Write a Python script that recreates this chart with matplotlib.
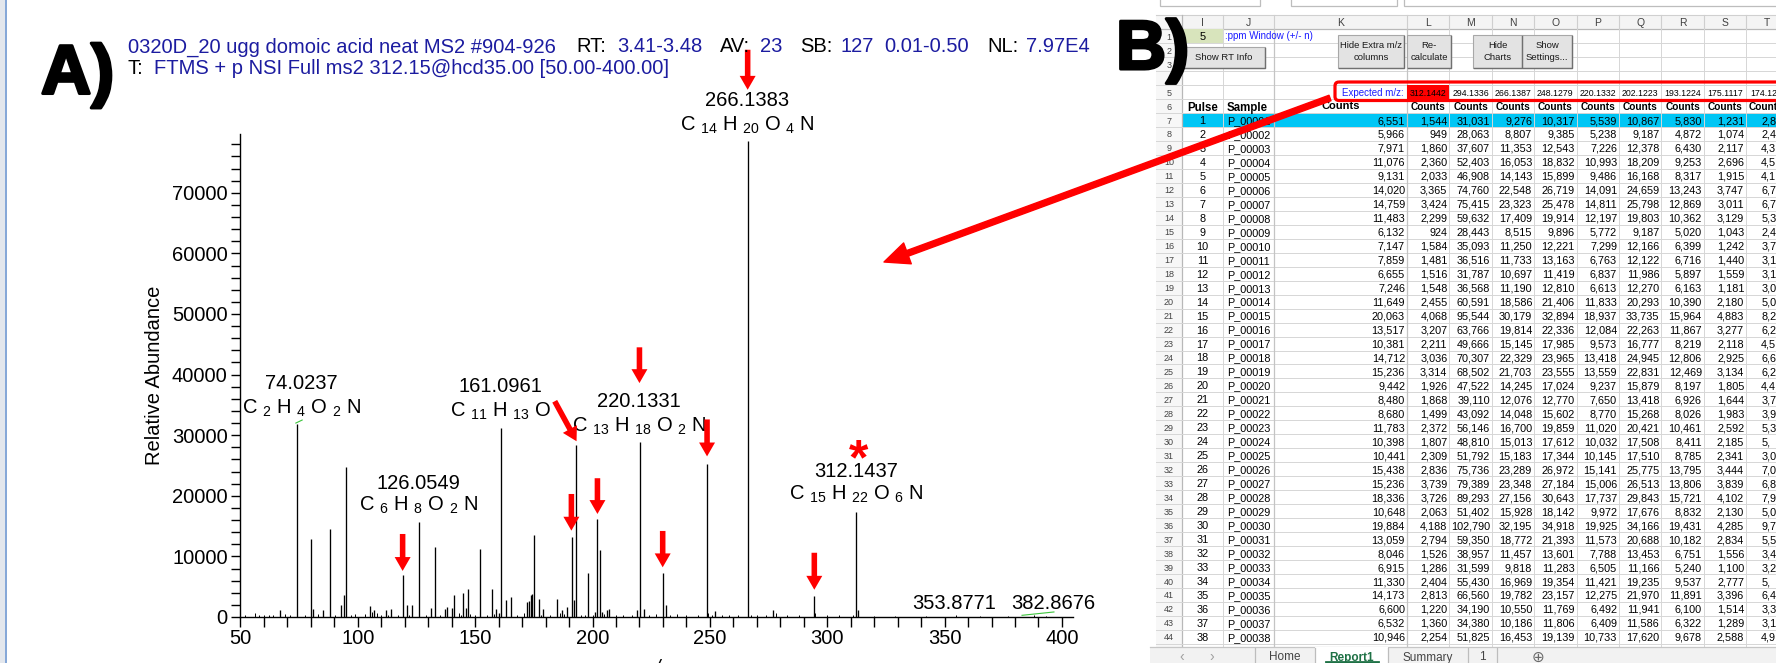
import matplotlib
matplotlib.use("Agg")
import matplotlib.pyplot as plt
from matplotlib.patches import Rectangle, FancyBboxPatch
import matplotlib.patheffects as pe

plt.rcParams['font.family'] = ['Liberation Sans', 'DejaVu Sans']
plt.rcParams['mathtext.fontset'] = 'custom'
plt.rcParams['mathtext.rm'] = 'Liberation Sans'
plt.rcParams['mathtext.it'] = 'Liberation Sans:italic'
plt.rcParams['mathtext.bf'] = 'Liberation Sans:bold'

# ------------------------------------------------------------------ data
# main fragment peaks of the MS2 spectrum (m/z, intensity)
peak_mz = [67.0, 74.02, 80.05, 81.0, 85.0, 88.04, 93.0, 94.0, 95.05, 105.1, 107.0,
           112.0, 114.0, 119.05, 121.0, 123.0, 126.05, 131.0, 133.1, 137.0, 138.0,
           140.0, 141.1, 145.0, 146.0, 147.1, 152.1, 157.1, 159.0, 160.0, 161.1,
           163.1, 165.1, 172.0, 173.0, 173.9, 174.4, 175.1, 177.1, 179.1, 185.0,
           187.1, 189.1, 191.1, 192.1, 193.12, 198.0, 201.0, 202.12, 203.1, 204.0,
           206.0, 207.0, 219.0, 220.13, 222.0, 230.1, 231.1, 248.6, 252.1, 266.14,
           276.7, 294.4, 312.4, 313.1]
peak_int = [1200, 31800, 12800, 1400, 1200, 14500, 2000, 3700, 24800, 1800, 1100,
            1100, 1400, 6900, 2000, 1900, 15600, 1500, 11500, 1300, 1700,
            1500, 3600, 3900, 1500, 4700, 11200, 4600, 1400, 700, 31200,
            2800, 3300, 2500, 2600, 3700, 3800, 13500, 3000, 1400, 3000,
            1100, 1700, 13200, 2800, 28400, 7300, 900, 16100, 11000, 800,
            1100, 1300, 1100, 28900, 1400, 7300, 1900, 25200, 1000, 78500,
            1100, 3400, 17300, 1100]
# small baseline peaks
noise_mz = [52, 56, 58, 60, 62, 64, 69, 71, 77.5, 83, 90.5, 97, 99, 103, 106, 108, 110,
            113, 117, 122, 129, 135, 143, 144, 148, 150, 155, 158, 168, 171, 178, 182,
            186, 188, 195, 197, 200, 205, 210, 213, 217, 224, 227, 233, 236, 240, 245,
            249.3, 251, 255, 258, 262, 267.5, 270, 274, 278, 283, 288, 295, 300, 305,
            311, 320, 329, 342, 355, 365, 377, 388, 393]
noise_int = [300, 600, 400, 300, 400, 300, 500, 400, 300, 500, 300, 300, 500, 500, 900,
             700, 400, 300, 300, 400, 400, 400, 600, 400, 500, 300, 400, 500, 300, 600,
             400, 300, 600, 500, 300, 400, 400, 500, 300, 400, 300, 400, 500, 300, 500,
             300, 300, 600, 400, 300, 400, 300, 400, 300, 400, 600, 300, 300, 600, 300,
             300, 400, 200, 200, 200, 300, 200, 200, 300, 200]

# annotated peaks
label_mass = ["74.0237", "126.0549", "161.0961", "220.1331", "266.1383", "312.1437",
              "353.8771", "382.8676"]
label_x = [76.0, 126.0, 160.9, 219.9, 266.0, 312.2, 354.0, 396.3]
label_y = [38500, 22100, 38000, 35500, 85300, 24000, 2300, 2300]
label_formula = ["C $_{2}$ H $_{4}$ O $_{2}$ N", "C $_{6}$ H $_{8}$ O $_{2}$ N",
                 "C $_{11}$ H $_{13}$ O", "C $_{13}$ H $_{18}$ O $_{2}$ N",
                 "C $_{14}$ H $_{20}$ O $_{4}$ N", "C $_{15}$ H $_{22}$ O $_{6}$ N", "", ""]
formula_y = [34500, 18350, 34000, 31500, 81200, 20200, 0, 0]

# red arrows marking monitored fragments (m/z, tail intensity, tip intensity)
arrow_mz = [119.1, 191.0, 202.1, 229.9, 248.8, 294.5, 220.0, 266.1]
arrow_tail = [13700, 20300, 22900, 14200, 32600, 10600, 44500, 93600]
arrow_tip = [7600, 14250, 17000, 8200, 26500, 4500, 38600, 87000]
diag_arrow = [(183.9, 35600), (193.2, 29000)]

# spreadsheet (panel B)
col_letters = ["I", "J", "K", "L", "M", "N", "O", "P", "Q", "R", "S", "T"]
expected_mz = ["312.1442", "294.1336", "266.1387", "248.1279", "220.1332", "202.1223",
               "193.1224", "175.1117", "174.12"]
pulse = list(range(1, 39))
counts_K = [6551, 5966, 7971, 11076, 9131, 14020, 14759, 11483, 6132, 7147, 7859, 6655,
            7246, 11649, 20063, 13517, 10381, 14712, 15236, 9442, 8480, 8680, 11783,
            10398, 10441, 15438, 15236, 18336, 10648, 19884, 13059, 8046, 6915, 11330,
            14173, 6600, 6532, 10946]
counts_L = [1544, 949, 1860, 2360, 2033, 3365, 3424, 2299, 924, 1584, 1481, 1516, 1548,
            2455, 4068, 3207, 2211, 3036, 3314, 1926, 1868, 1499, 2372, 1807, 2309,
            2836, 3739, 3726, 2063, 4188, 2794, 1526, 1286, 2404, 2813, 1220, 1360, 2254]
counts_M = [31031, 28063, 37607, 52403, 46908, 74760, 75415, 59632, 28443, 35093, 36516,
            31787, 36568, 60591, 95544, 63766, 49666, 70307, 68502, 47522, 39110, 43092,
            56146, 48810, 51792, 75736, 79389, 89293, 51402, 102790, 59350, 38957,
            31599, 55430, 66560, 34190, 34380, 51825]
counts_N = [9276, 8807, 11353, 16053, 14143, 22548, 23323, 17409, 8515, 11250, 11733,
            10697, 11190, 18586, 30179, 19814, 15145, 22329, 21703, 14245, 12076, 14048,
            16700, 15013, 15183, 23289, 23348, 27156, 15928, 32195, 18772, 11457, 9818,
            16969, 19782, 10550, 10186, 16453]
counts_O = [10317, 9385, 12543, 18832, 15899, 26719, 25478, 19914, 9896, 12221, 13163,
            11419, 12810, 21406, 32894, 22336, 17985, 23965, 23555, 17024, 12770, 15602,
            19859, 17612, 17344, 26972, 27184, 30643, 18142, 34918, 21393, 13601, 11283,
            19354, 23157, 11769, 11806, 19139]
counts_P = [5539, 5238, 7226, 10993, 9486, 14091, 14811, 12197, 5772, 7299, 6763, 6837,
            6613, 11833, 18937, 12084, 9573, 13418, 13559, 9237, 7650, 8770, 11020,
            10032, 10145, 15141, 15006, 17737, 9972, 19925, 11573, 7788, 6505, 11421,
            12275, 6492, 6409, 10733]
counts_Q = [10867, 9187, 12378, 18209, 16168, 24659, 25798, 19803, 9187, 12166, 12122,
            11986, 12270, 20293, 33735, 22263, 16777, 24945, 22831, 15879, 13418, 15268,
            20421, 17508, 17510, 25775, 26513, 29843, 17676, 34166, 20688, 13453, 11166,
            19235, 21970, 11941, 11586, 17620]
counts_R = [5830, 4872, 6430, 9253, 8317, 13243, 12869, 10362, 5020, 6399, 6716, 5897,
            6163, 10390, 15964, 11867, 8219, 12806, 12469, 8197, 6926, 8026, 10461, 8411,
            8785, 13795, 13806, 15721, 8832, 19431, 10182, 6751, 5240, 9537, 11891, 6100,
            6322, 9678]
counts_S = [1231, 1074, 2117, 2696, 1915, 3747, 3011, 3129, 1043, 1242, 1440, 1559, 1181,
            2180, 4883, 3277, 2118, 2925, 3134, 1805, 1644, 1983, 2592, 2185, 2341, 3444,
            3839, 4102, 2130, 4285, 2834, 1556, 1100, 2777, 3396, 1514, 1289, 2588]
counts_T_visible = ["2,8", "2,4", "4,3", "4,5", "4,1", "6,7", "6,7", "5,3", "2,4", "3,7",
                    "3,1", "3,1", "3,0", "5,0", "8,2", "6,2", "4,5", "6,6", "6,2", "4,4",
                    "3,7", "3,9", "5,3", "5,", "3,0", "7,0", "6,8", "7,9", "5,0", "9,7",
                    "5,5", "3,4", "3,2", "5,", "6,4", "3,3", "3,1", "4,9"]
sheet_tabs = ["Home", "Report1", "Summary", "1"]

# ------------------------------------------------------------------ figure
W, H = 1776, 663
fig = plt.figure(figsize=(W / 100, H / 100), dpi=100)
fig.patch.set_facecolor("white")

BLUE = "#1c1ca0"
FS = 14.5

# ---------------- spectrum axes (panel A)
ax_l, ax_r, ax_b, ax_t = 239.5, 1072.5, 617, 134
ax = fig.add_axes([ax_l / W, 1 - ax_b / H, (ax_r - ax_l) / W, (ax_b - ax_t) / H])
ax.patch.set_alpha(0)
ax.vlines(noise_mz, 0, noise_int, color="black", lw=0.7)
ax.vlines(peak_mz, 0, peak_int, color="black", lw=0.95)
ax.set_xlim(49.6, 404.5)
ax.set_ylim(0, 79700)
for s in ["top", "right"]:
    ax.spines[s].set_visible(False)
for s in ["left", "bottom"]:
    ax.spines[s].set_linewidth(1.0)
ax.set_xticks(list(range(50, 401, 50)))
ax.set_xticks(list(range(60, 400, 10)), minor=True)
ax.set_yticks(list(range(0, 70001, 10000)))
ax.set_yticks(list(range(2000, 79000, 2000)), minor=True)
ax.tick_params(axis="both", which="both", direction="out", length=7, width=1.0,
               labelsize=FS)
ax.tick_params(axis="x", which="both", pad=2)
ax.tick_params(axis="y", which="both", pad=2, length=6.5)
ax.text(-0.1026, 0.5, "Relative Abundance", rotation=90, transform=ax.transAxes,
        ha="center", va="center", fontsize=FS)

for mz_lab, x, y, f, fy in zip(label_mass, label_x, label_y, label_formula, formula_y):
    ax.text(x, y, mz_lab, ha="center", va="center", fontsize=FS, clip_on=False)
    if f:
        ax.text(x, fy, f, ha="center", va="center", fontsize=FS, clip_on=False)

# small green connector ticks of displaced labels
ax.plot([73.6, 76.3], [32000, 32500], color="#3cc43c", lw=0.8, clip_on=False)
ax.plot([383.0, 396.6], [280, 830], color="#3cc43c", lw=0.8, clip_on=False)

for x, t0, t1 in zip(arrow_mz, arrow_tail, arrow_tip):
    ax.annotate("", xy=(x, t1), xytext=(x, t0), annotation_clip=False,
                arrowprops=dict(facecolor="red", edgecolor="none", width=4.0,
                                headwidth=11.5, headlength=10, shrink=0))
ax.annotate("", xy=diag_arrow[1], xytext=diag_arrow[0], annotation_clip=False,
            arrowprops=dict(facecolor="red", edgecolor="none", width=4.0,
                            headwidth=11.5, headlength=10, shrink=0))
ax.text(313.3, 23500, "*", color="red", fontsize=36, fontweight="bold",
        ha="center", va="baseline", clip_on=False)

# ---------------- overlay in pixel coordinates
ov = fig.add_axes([0, 0, 1, 1], zorder=5)
ov.set_xlim(0, W)
ov.set_ylim(H, 0)
ov.axis("off")
ov.patch.set_alpha(0)

# window edge at far left
ov.add_patch(Rectangle((0, 0), 5, H, fc="#e3e7ed", ec="none"))
ov.plot([6, 6], [0, H], color="#7a9fd4", lw=1.3)

# panel letters
for txt, x, yb in [("A)", 41, 93.5), ("B)", 1116, 69)]:
    ov.text(x, yb, txt, fontsize=50, fontweight="bold", ha="left", va="baseline",
            zorder=8, path_effects=[pe.withStroke(linewidth=2.2, foreground="black")])

# title (scan header)
line1 = [("0320D_20 ugg domoic acid neat MS2 #904-926", 127.6, BLUE),
         ("RT:", 576, "black"), ("3.41-3.48", 617, BLUE), ("AV:", 720, "black"),
         ("23", 760, BLUE), ("SB:", 800, "black"), ("127", 840, BLUE),
         ("0.01-0.50", 884, BLUE), ("NL:", 987, "black"), ("7.97E4", 1026, BLUE)]
for t, x, c in line1:
    ov.text(x, 45, t, color=c, fontsize=FS, ha="left", va="center_baseline", zorder=2)
ov.text(127.6, 67, "T:", color="black", fontsize=FS, ha="left", va="center_baseline")
ov.text(153.8, 67, "FTMS + p NSI Full ms2 312.15@hcd35.00 [50.00-400.00]", color=BLUE,
        fontsize=FS, ha="left", va="center_baseline")
ov.text(655, 659, "m/z", fontsize=FS, style="italic", ha="center", va="top")

# ---------------- spreadsheet
def ry(r):
    return 120 + (r - 7) * 13.97

rn_l, I_l, J_l, K_l, L_l, colw = 1156, 1182, 1223, 1274, 1407, 42.4
col_edges = [I_l, J_l, K_l] + [L_l + k * colw for k in range(10)]
tab_top = 646.5
grid = "#d6d6d6"

# formula-bar remains at the very top
for x0, w0 in [(1160, 100), (1291, 106), (1404, 400)]:
    ov.add_patch(Rectangle((x0, -5), w0, 11, fc="white", ec="#bdbdbd", lw=0.9))
# header row and row-number column
ov.add_patch(Rectangle((rn_l, 15), W - rn_l, 14.2, fc="#f4f4f4", ec="none", zorder=0.5))
ov.add_patch(Rectangle((rn_l, 15), I_l - rn_l, tab_top - 15, fc="#f7f7f7", ec="none",
                       zorder=0.5))
ov.plot([rn_l, W], [29.2, 29.2], color="#b8b8b8", lw=0.9, zorder=1)
ov.plot([rn_l, W], [15, 15], color="#d0d0d0", lw=0.8, zorder=1)
ov.plot([I_l, I_l], [15, tab_top], color="#b8b8b8", lw=0.9, zorder=1)
for i, lt in enumerate(col_letters):
    xl = col_edges[i]
    xr = col_edges[i + 1]
    ov.text((xl + xr) / 2, 22.4, lt, fontsize=7.5, color="#404040", ha="center",
            va="center_baseline", zorder=2)
    ov.plot([xr, xr], [15, 29.2], color="#cfcfcf", lw=0.8, zorder=1)
# cyan highlighted row 7
ov.add_patch(Rectangle((I_l, ry(7) - 7), W - I_l, 14, fc="#00c6f5", ec="none", zorder=0.8))
# gridlines
for r in range(1, 46):
    yb = ry(r) + 7
    if yb < tab_top:
        ov.plot([rn_l, W], [yb, yb], color=grid, lw=0.7, zorder=1)
for xe in col_edges[1:]:
    ov.plot([xe, xe], [29.2, tab_top], color=grid, lw=0.7, zorder=1)
ov.plot([K_l, K_l], [29.2, tab_top], color="#c4c4c4", lw=0.9, zorder=1)
ov.plot([L_l, L_l], [29.2, tab_top], color="#c4c4c4", lw=0.9, zorder=1)
for r in range(1, 46):
    if ry(r) < tab_top:
        ov.text(1169, ry(r), str(r), fontsize=6.5, color="#444444", ha="center",
                va="center_baseline", zorder=2)

# row 1 settings
ov.add_patch(Rectangle((I_l, ry(1) - 7), J_l - I_l, 14, fc="#d8e4bc", ec="none", zorder=1.5))
ov.text((I_l + J_l) / 2, ry(1), "5", fontsize=8, ha="center", va="center_baseline", zorder=2)
ov.text(J_l + 2, ry(1) - 1, ":ppm Window (+/- n)", fontsize=7, color="#1a1aff", ha="left",
        va="center_baseline", zorder=2)

def button(x, y, w, h, label):
    ov.add_patch(Rectangle((x, y), w, h, fc="#e3e3e3", ec="#a8a8a8", lw=0.8, zorder=3))
    ov.plot([x + 1, x + w, x + w], [y + h, y + h, y + 1], color="#707070", lw=1.0,
            zorder=3.1)
    ov.text(x + w / 2, y + h / 2, label, ha="center", va="center", fontsize=6.8,
            color="#1a1a1a", linespacing=1.45, zorder=3.2)

button(1183, 47, 82, 21, "Show RT Info")
button(1338, 35, 66, 33, "Hide Extra m/z\ncolumns")
button(1407, 35, 44, 33, "Re-\ncalculate")
button(1473, 35, 49, 33, "Hide\nCharts")
button(1522, 35, 50, 33, "Show\nSettings...")

# row 5: expected m/z
ov.text(K_l + 130, ry(5), "Expected m/z:", fontsize=7, color="#1a1aff", ha="right",
        va="center_baseline", zorder=2)
ov.add_patch(Rectangle((L_l, ry(5) - 7), colw, 14, fc="#ff0000", ec="none", zorder=1.5))
for k, v in enumerate(expected_mz):
    xl = L_l + k * colw
    if k < 8:
        ov.text(xl + colw / 2, ry(5), v, fontsize=6.3, ha="center", va="center_baseline",
                zorder=2)
    else:
        ov.text(xl + 4, ry(5), v, fontsize=6.3, ha="left", va="center_baseline", zorder=2)
ov.add_patch(FancyBboxPatch((1335, 82), 470, 18.5,
                            boxstyle="round,pad=0,rounding_size=4",
                            ec="red", fc="none", lw=2.3, zorder=4))

# row 6 headers
ov.text((I_l + J_l) / 2, ry(6), "Pulse", fontsize=8.3, fontweight="bold", ha="center",
        va="center_baseline", zorder=2)
ov.text(J_l + 4, ry(6), "Sample", fontsize=8.3, fontweight="bold", ha="left",
        va="center_baseline", zorder=2)
ov.text((K_l + L_l) / 2, ry(6) - 1.5, "Counts", fontsize=8, fontweight="bold",
        ha="center", va="center_baseline", zorder=2)
for k in range(9):
    xl = L_l + k * colw
    if k < 8:
        ov.text(xl + colw / 2, ry(6), "Counts", fontsize=7.3, fontweight="bold",
                ha="center", va="center_baseline", zorder=2)
    else:
        ov.text(xl + 2, ry(6), "Counts", fontsize=7.3, fontweight="bold", ha="left",
                va="center_baseline", zorder=2)

# data rows
num_cols = [counts_K, counts_L, counts_M, counts_N, counts_O, counts_P, counts_Q,
            counts_R, counts_S]
right_edges = [L_l - 2] + [L_l + (k + 1) * colw - 2 for k in range(8)]
for i, p in enumerate(pulse):
    y = ry(7 + i)
    ov.text((I_l + J_l) / 2, y, str(p), fontsize=7.8, ha="center", va="center_baseline",
            zorder=2)
    ov.text(J_l + 4, y, "P_%05d" % p, fontsize=7.8, ha="left", va="center_baseline",
            zorder=2)
    for col, xr in zip(num_cols, right_edges):
        ov.text(xr, y, f"{col[i]:,}", fontsize=7.8, ha="right", va="center_baseline",
                zorder=2)
    ov.text(L_l + 8 * colw + 15, y, counts_T_visible[i], fontsize=7.8, ha="left",
            va="center_baseline", zorder=2)

# sheet tab bar
ov.add_patch(Rectangle((rn_l - 6, tab_top), W, 20, fc="#f2f2f2", ec="none", zorder=4))
ov.plot([rn_l - 6, W], [tab_top, tab_top], color="#c6c6c6", lw=0.9, zorder=4.1)
ov.text(1182, 655.5, "\u2039", fontsize=10, color="#a0a0a0", ha="center",
        va="center_baseline", zorder=4.2)
ov.text(1212, 655.5, "\u203a", fontsize=10, color="#a0a0a0", ha="center",
        va="center_baseline", zorder=4.2)
tab_edges = [1255, 1315, 1388, 1468, 1497]
ov.add_patch(Rectangle((1315, tab_top), 73, 20, fc="white", ec="none", zorder=4.1))
for xe in tab_edges:
    ov.plot([xe, xe], [tab_top + 1, H], color="#bdbdbd", lw=0.9, zorder=4.2)
for k, name in enumerate(sheet_tabs):
    xc = (tab_edges[k] + tab_edges[k + 1]) / 2
    if name == "Report1":
        ov.text(xc, 656, name, fontsize=8.5, fontweight="bold", color="#1e7145",
                ha="center", va="center_baseline", zorder=4.3)
        ov.plot([xc - 26, xc + 26], [661.5, 661.5], color="#1e7145", lw=2.0, zorder=4.3)
    else:
        ov.text(xc, 656, name, fontsize=8.5, color="#444444", ha="center",
                va="center_baseline", zorder=4.3)
ov.text(1538, 655.5, "\u2295", fontsize=11, color="#6a6a6a", ha="center",
        va="center_baseline", family="DejaVu Sans", zorder=4.3)

# big red arrow from the spreadsheet to the spectrum
ov.annotate("", xy=(884, 262), xytext=(1330, 98),
            arrowprops=dict(facecolor="red", edgecolor="red", width=4.2, headwidth=16,
                            headlength=18, shrink=0), zorder=10)

fig.savefig("out.png", dpi=100, facecolor="white")
